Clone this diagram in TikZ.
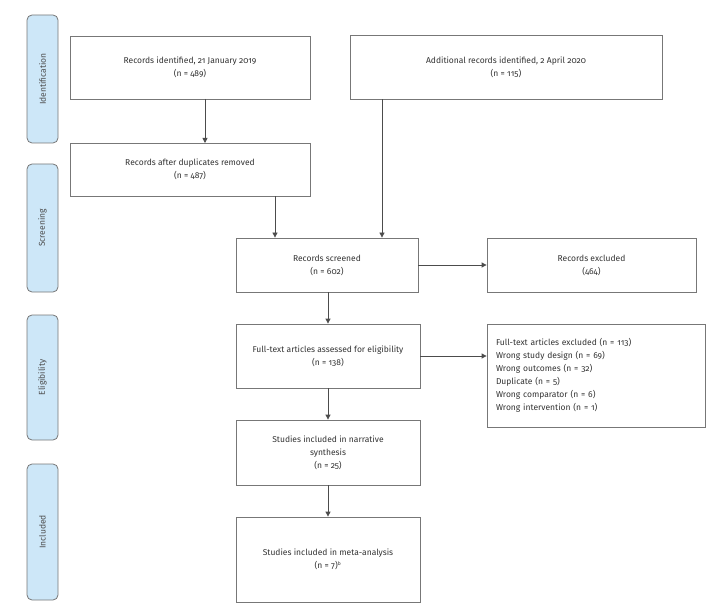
\documentclass[tikz,border=0pt]{standalone}
\usepackage{fontspec}
\setmainfont{Fira Sans}[Numbers=OldStyle]
\usetikzlibrary{arrows.meta}
\definecolor{bord}{HTML}{777777}
\definecolor{side}{HTML}{CDE7F8}
\begin{document}
\begin{tikzpicture}[x=1pt,y=-1pt,
  box/.style={draw=bord,line width=0.8pt,fill=white,align=center,inner sep=0pt,font=\fontsize{8.5}{13}\selectfont,text=black!80},
  bar/.style={draw=bord,line width=0.8pt,fill=side,rounded corners=5pt,font=\fontsize{8.5}{10}\selectfont,text=black!70},
  arr/.style={draw=black!70,line width=0.8pt,-{Triangle[length=5pt,width=5pt]}}]
\useasboundingbox (0,0) rectangle (725,612);
\newcommand\bx[6]{\node[box,minimum width=#4-#2,minimum height=#5-#3] (#1) at ({(#2+#4)/2},{(#3+#5)/2}) {#6};}
\bx{id}{70}{36}{310}{99}{Records identified, 21 January 2019\\(n = 489)}
\bx{add}{350}{35}{662}{99}{Additional records identified, 2 April 2020\\(n = 115)}
\bx{dup}{70}{143}{310}{196}{Records after duplicates removed\\(n = 487)}
\bx{scr}{236}{238}{418}{292}{Records screened\\(n = 602)}
\bx{exc}{487}{238}{696}{292}{Records excluded\\(464)}
\bx{ft}{236}{324}{420}{388}{Full-text articles assessed for eligibility\\(n = 138)}
\node[box,minimum width=218,minimum height=103,align=left,text width=200] (ftx) at (596,375.5) {Full-text articles excluded (n = 113)\\Wrong study design (n = 69)\\Wrong outcomes (n = 32)\\Duplicate (n = 5)\\Wrong comparator (n = 6)\\Wrong intervention (n = 1)};
\bx{nar}{236}{420}{420}{485}{Studies included in narrative\\synthesis\\(n = 25)}
\bx{meta}{236}{517}{420}{602}{Studies included in meta-analysis\\(n = 7)\textsuperscript{\tiny b}}
\foreach \n/\a/\b/\t in {b1/15/143/Identification,b2/164/292/Screening,b3/315/440/Eligibility,b4/464/600/Included}{
  \node[bar,minimum width=\b-\a,minimum height=31,rotate=90] (\n) at (42.5,{(\a+\b)/2}) {\t};}
\coordinate (c1) at (205,99); \coordinate (c2) at (205,143);
\draw[arr] (c1) -- (c2);
\draw[arr] (dup.south -| 275,0) -- (scr.north -| 275,0);
\draw[arr] (add.south -| 382,0) -- (scr.north -| 382,0);
\draw[arr] (scr) -- (exc);
\draw[arr] (scr.south -| 328,0) -- (ft.north -| 328,0);
\draw[arr] (ft.east |- 0,356) -- (ftx.west |- 0,356);
\draw[arr] (ft.south -| 328,0) -- (nar.north -| 328,0);
\draw[arr] (nar.south -| 328,0) -- (meta.north -| 328,0);
\end{tikzpicture}
\end{document}
